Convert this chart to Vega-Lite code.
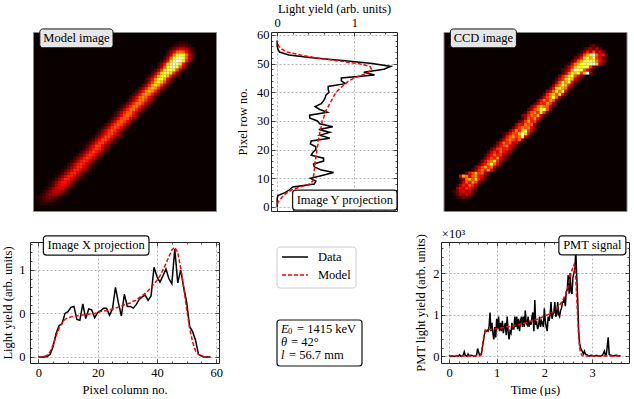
{"$schema":"https://vega.github.io/schema/vega-lite/v6.json","padding":{"left":1,"top":2,"right":0,"bottom":0},"autosize":"pad","config":{"font":"Liberation Serif","view":{"stroke":null},"text":{"fontSize":12.5},"axis":{"labelFontSize":12.5,"titleFontSize":12.5,"labelColor":"#000","titleColor":"#000","titleFontWeight":"normal","domainColor":"#222","domainWidth":1,"tickColor":"#222","tickWidth":0.8,"gridColor":"#999","gridDash":[2,2],"gridWidth":0.7}},
"datasets":{"xp":[{"c":0,"v":0,"m":0},{"c":1,"v":0,"m":0},{"c":2,"v":0,"m":0.005},{"c":3,"v":0.005,"m":0.02},{"c":4,"v":0.03,"m":0.06},{"c":5,"v":0.12,"m":0.14},{"c":6,"v":0.27,"m":0.24},{"c":7,"v":0.36,"m":0.33},{"c":8,"v":0.38,"m":0.39},{"c":9,"v":0.5,"m":0.43},{"c":10,"v":0.52,"m":0.45},{"c":11,"v":0.57,"m":0.46},{"c":12,"v":0.58,"m":0.47},{"c":13,"v":0.43,"m":0.47},{"c":14,"v":0.42,"m":0.48},{"c":15,"v":0.61,"m":0.48},{"c":16,"v":0.44,"m":0.49},{"c":17,"v":0.55,"m":0.49},{"c":18,"v":0.54,"m":0.5},{"c":19,"v":0.45,"m":0.5},{"c":20,"v":0.51,"m":0.51},{"c":21,"v":0.53,"m":0.52},{"c":22,"v":0.56,"m":0.53},{"c":23,"v":0.56,"m":0.53},{"c":24,"v":0.48,"m":0.54},{"c":25,"v":0.55,"m":0.55},{"c":26,"v":0.8,"m":0.56},{"c":27,"v":0.62,"m":0.57},{"c":28,"v":0.47,"m":0.58},{"c":29,"v":0.72,"m":0.6},{"c":30,"v":0.58,"m":0.61},{"c":31,"v":0.58,"m":0.62},{"c":32,"v":0.56,"m":0.64},{"c":33,"v":0.6,"m":0.65},{"c":34,"v":0.66,"m":0.68},{"c":35,"v":0.69,"m":0.7},{"c":36,"v":0.71,"m":0.73},{"c":37,"v":0.65,"m":0.76},{"c":38,"v":0.7,"m":0.8},{"c":39,"v":1.03,"m":0.84},{"c":40,"v":0.92,"m":0.88},{"c":41,"v":0.86,"m":0.93},{"c":42,"v":0.93,"m":1},{"c":43,"v":1.01,"m":1.07},{"c":44,"v":0.9,"m":1.15},{"c":45,"v":0.84,"m":1.23},{"c":46,"v":1.24,"m":1.26},{"c":47,"v":0.85,"m":1.2},{"c":48,"v":1,"m":1.02},{"c":49,"v":0.8,"m":0.8},{"c":50,"v":0.63,"m":0.55},{"c":51,"v":0.35,"m":0.33},{"c":52,"v":0.29,"m":0.17},{"c":53,"v":0.19,"m":0.07},{"c":54,"v":0.03,"m":0.03},{"c":55,"v":0.01,"m":0.01},{"c":56,"v":0,"m":0},{"c":57,"v":0,"m":0},{"c":58,"v":0,"m":0}],
"yp":[{"r":0,"v":0,"m":null},{"r":1,"v":0,"m":0},{"r":2,"v":0,"m":0.02},{"r":3,"v":0,"m":0.05},{"r":4,"v":0.01,"m":0.08},{"r":5,"v":0.1,"m":0.13},{"r":6,"v":0.16,"m":0.19},{"r":7,"v":0.2,"m":0.3},{"r":8,"v":0.48,"m":0.42},{"r":9,"v":0.5,"m":0.46},{"r":10,"v":0.43,"m":0.47},{"r":11,"v":0.58,"m":0.47},{"r":12,"v":0.73,"m":0.48},{"r":13,"v":0.56,"m":0.48},{"r":14,"v":0.48,"m":0.49},{"r":15,"v":0.47,"m":0.49},{"r":16,"v":0.6,"m":0.49},{"r":17,"v":0.6,"m":0.5},{"r":18,"v":0.44,"m":0.5},{"r":19,"v":0.46,"m":0.51},{"r":20,"v":0.5,"m":0.51},{"r":21,"v":0.5,"m":0.52},{"r":22,"v":0.43,"m":0.53},{"r":23,"v":0.44,"m":0.53},{"r":24,"v":0.68,"m":0.54},{"r":25,"v":0.55,"m":0.55},{"r":26,"v":0.68,"m":0.55},{"r":27,"v":0.54,"m":0.56},{"r":28,"v":0.72,"m":0.57},{"r":29,"v":0.55,"m":0.58},{"r":30,"v":0.52,"m":0.58},{"r":31,"v":0.42,"m":0.6},{"r":32,"v":0.42,"m":0.61},{"r":33,"v":0.65,"m":0.62},{"r":34,"v":0.55,"m":0.64},{"r":35,"v":0.49,"m":0.66},{"r":36,"v":0.57,"m":0.68},{"r":37,"v":0.6,"m":0.7},{"r":38,"v":0.62,"m":0.72},{"r":39,"v":0.63,"m":0.74},{"r":40,"v":0.67,"m":0.76},{"r":41,"v":0.66,"m":0.8},{"r":42,"v":0.66,"m":0.84},{"r":43,"v":0.88,"m":0.88},{"r":44,"v":0.83,"m":0.93},{"r":45,"v":0.83,"m":1},{"r":46,"v":1.26,"m":1.1},{"r":47,"v":1.12,"m":1.18},{"r":48,"v":1.38,"m":1.22},{"r":49,"v":1.47,"m":1.2},{"r":50,"v":1.23,"m":1.05},{"r":51,"v":0.88,"m":0.77},{"r":52,"v":0.45,"m":0.5},{"r":53,"v":0.15,"m":0.3},{"r":54,"v":0.03,"m":0.13},{"r":55,"v":0.01,"m":0.06},{"r":56,"v":0,"m":0.02},{"r":57,"v":0,"m":0.01},{"r":58,"v":0,"m":0}],
"pm":[{"t":0,"v":0.02,"m":0},{"t":0.02,"v":0,"m":0},{"t":0.04,"v":-0.01,"m":0},{"t":0.08,"v":0,"m":0},{"t":0.12,"v":-0.01,"m":0},{"t":0.16,"v":0.01,"m":0},{"t":0.2,"v":0,"m":0},{"t":0.22,"v":0.03,"m":0},{"t":0.24,"v":0,"m":0},{"t":0.26,"v":-0.01,"m":0},{"t":0.3,"v":0.03,"m":0},{"t":0.32,"v":0.1,"m":0},{"t":0.34,"v":0.02,"m":0},{"t":0.38,"v":-0.01,"m":0},{"t":0.4,"v":0.05,"m":0},{"t":0.42,"v":0.01,"m":0},{"t":0.46,"v":0.02,"m":0},{"t":0.5,"v":0.01,"m":0},{"t":0.52,"v":-0.01,"m":0},{"t":0.58,"v":0.02,"m":0},{"t":0.6,"v":0.18,"m":0},{"t":0.62,"v":0.1,"m":0},{"t":0.64,"v":0.02,"m":0},{"t":0.66,"v":0.01,"m":0.02},{"t":0.68,"v":0.05,"m":0.1},{"t":0.7,"v":0.2,"m":0.25},{"t":0.72,"v":0.35,"m":0.4},{"t":0.74,"v":0.5,"m":0.53},{"t":0.76,"v":0.62,"m":0.6},{"t":0.78,"v":0.6,"m":0.62},{"t":0.8,"v":0.62,"m":0.63},{"t":0.82,"v":0.6,"m":0.63},{"t":0.84,"v":0.7,"m":0.64},{"t":0.86,"v":1.05,"m":0.64},{"t":0.88,"v":0.6,"m":0.64},{"t":0.9,"v":0.8,"m":0.65},{"t":0.92,"v":0.55,"m":0.65},{"t":0.94,"v":0.4,"m":0.65},{"t":0.96,"v":0.7,"m":0.65},{"t":0.98,"v":0.45,"m":0.66},{"t":1,"v":0.9,"m":0.66},{"t":1.02,"v":0.65,"m":0.66},{"t":1.04,"v":0.95,"m":0.67},{"t":1.06,"v":0.6,"m":0.67},{"t":1.08,"v":0.8,"m":0.67},{"t":1.1,"v":0.6,"m":0.68},{"t":1.12,"v":0.85,"m":0.68},{"t":1.14,"v":0.55,"m":0.68},{"t":1.16,"v":0.7,"m":0.69},{"t":1.18,"v":0.8,"m":0.69},{"t":1.2,"v":0.5,"m":0.7},{"t":1.22,"v":0.95,"m":0.7},{"t":1.24,"v":0.6,"m":0.71},{"t":1.26,"v":0.4,"m":0.71},{"t":1.28,"v":0.6,"m":0.71},{"t":1.3,"v":0.55,"m":0.72},{"t":1.32,"v":0.8,"m":0.72},{"t":1.34,"v":0.65,"m":0.73},{"t":1.36,"v":0.65,"m":0.73},{"t":1.38,"v":0.95,"m":0.74},{"t":1.4,"v":0.7,"m":0.74},{"t":1.42,"v":0.95,"m":0.75},{"t":1.44,"v":0.65,"m":0.75},{"t":1.46,"v":0.9,"m":0.76},{"t":1.48,"v":0.6,"m":0.76},{"t":1.5,"v":0.85,"m":0.77},{"t":1.52,"v":0.95,"m":0.78},{"t":1.54,"v":0.7,"m":0.78},{"t":1.56,"v":0.95,"m":0.79},{"t":1.58,"v":0.7,"m":0.79},{"t":1.6,"v":1.1,"m":0.8},{"t":1.62,"v":0.8,"m":0.81},{"t":1.64,"v":0.75,"m":0.81},{"t":1.66,"v":0.95,"m":0.82},{"t":1.68,"v":0.7,"m":0.83},{"t":1.7,"v":0.85,"m":0.83},{"t":1.72,"v":0.75,"m":0.84},{"t":1.74,"v":0.95,"m":0.85},{"t":1.76,"v":1.05,"m":0.85},{"t":1.78,"v":0.6,"m":0.86},{"t":1.8,"v":1.35,"m":0.87},{"t":1.82,"v":0.75,"m":0.88},{"t":1.84,"v":0.8,"m":0.88},{"t":1.86,"v":0.65,"m":0.89},{"t":1.88,"v":0.75,"m":0.9},{"t":1.9,"v":0.95,"m":0.91},{"t":1.92,"v":0.7,"m":0.92},{"t":1.94,"v":0.85,"m":0.93},{"t":1.96,"v":0.8,"m":0.94},{"t":1.98,"v":0.7,"m":0.95},{"t":2,"v":1.15,"m":0.96},{"t":2.02,"v":0.85,"m":0.97},{"t":2.04,"v":0.7,"m":0.98},{"t":2.06,"v":0.6,"m":0.99},{"t":2.08,"v":0.95,"m":1},{"t":2.1,"v":0.85,"m":1.01},{"t":2.12,"v":1,"m":1.03},{"t":2.14,"v":1.3,"m":1.04},{"t":2.16,"v":0.9,"m":1.05},{"t":2.18,"v":1,"m":1.06},{"t":2.2,"v":1.05,"m":1.08},{"t":2.22,"v":1.3,"m":1.1},{"t":2.24,"v":0.95,"m":1.12},{"t":2.26,"v":1,"m":1.14},{"t":2.28,"v":1.3,"m":1.17},{"t":2.3,"v":1,"m":1.2},{"t":2.32,"v":0.95,"m":1.23},{"t":2.34,"v":1.1,"m":1.26},{"t":2.36,"v":1.15,"m":1.3},{"t":2.38,"v":1.3,"m":1.34},{"t":2.4,"v":1.3,"m":1.38},{"t":2.42,"v":1.4,"m":1.43},{"t":2.44,"v":1.2,"m":1.48},{"t":2.46,"v":1.55,"m":1.53},{"t":2.48,"v":1.6,"m":1.6},{"t":2.5,"v":1.95,"m":1.68},{"t":2.52,"v":1.5,"m":1.78},{"t":2.54,"v":2,"m":1.88},{"t":2.56,"v":1.55,"m":1.98},{"t":2.58,"v":1.5,"m":2.07},{"t":2.6,"v":1.9,"m":2.15},{"t":2.62,"v":2,"m":2.2},{"t":2.64,"v":2.1,"m":2.12},{"t":2.66,"v":2.55,"m":1.85},{"t":2.68,"v":1.9,"m":1.4},{"t":2.7,"v":1.35,"m":0.9},{"t":2.72,"v":0.6,"m":0.5},{"t":2.74,"v":0.3,"m":0.2},{"t":2.76,"v":0.2,"m":0.08},{"t":2.78,"v":0.15,"m":0.03},{"t":2.8,"v":0.1,"m":0.01},{"t":2.82,"v":0.05,"m":0},{"t":2.84,"v":0.12,"m":0},{"t":2.86,"v":0.05,"m":0},{"t":2.9,"v":0.03,"m":0},{"t":2.94,"v":0,"m":0},{"t":2.98,"v":0.02,"m":0},{"t":3.04,"v":0,"m":0},{"t":3.1,"v":0.01,"m":0},{"t":3.18,"v":0,"m":0},{"t":3.22,"v":0.02,"m":0},{"t":3.26,"v":0.12,"m":0},{"t":3.28,"v":0.02,"m":0},{"t":3.3,"v":0.03,"m":0},{"t":3.34,"v":0.45,"m":0},{"t":3.36,"v":0.04,"m":0},{"t":3.4,"v":0.02,"m":0},{"t":3.44,"v":0,"m":0},{"t":3.5,"v":0.02,"m":0},{"t":3.6,"v":0,"m":0}],
"md":[{"x":1,"y":2,"v":2},{"x":2,"y":2,"v":4},{"x":3,"y":2,"v":5},{"x":4,"y":2,"v":5},{"x":5,"y":2,"v":4},{"x":6,"y":2,"v":2},
{"x":1,"y":3,"v":2},{"x":2,"y":3,"v":5},{"x":3,"y":3,"v":8},{"x":4,"y":3,"v":10},{"x":5,"y":3,"v":10},{"x":6,"y":3,"v":8},{"x":7,"y":3,"v":5},{"x":8,"y":3,"v":2},
{"x":1,"y":4,"v":3},{"x":2,"y":4,"v":6},{"x":3,"y":4,"v":10},{"x":4,"y":4,"v":14},{"x":5,"y":4,"v":16},{"x":6,"y":4,"v":14},{"x":7,"y":4,"v":10},{"x":8,"y":4,"v":6},{"x":9,"y":4,"v":3},
{"x":2,"y":5,"v":4},{"x":3,"y":5,"v":8},{"x":4,"y":5,"v":14},{"x":5,"y":5,"v":20},{"x":6,"y":5,"v":22},{"x":7,"y":5,"v":20},{"x":8,"y":5,"v":14},{"x":9,"y":5,"v":8},{"x":10,"y":5,"v":4},
{"x":3,"y":6,"v":4},{"x":4,"y":6,"v":10},{"x":5,"y":6,"v":17},{"x":6,"y":6,"v":24},{"x":7,"y":6,"v":27},{"x":8,"y":6,"v":24},{"x":9,"y":6,"v":17},{"x":10,"y":6,"v":10},{"x":11,"y":6,"v":4},
{"x":4,"y":7,"v":5},{"x":5,"y":7,"v":11},{"x":6,"y":7,"v":20},{"x":7,"y":7,"v":28},{"x":8,"y":7,"v":31},{"x":9,"y":7,"v":28},{"x":10,"y":7,"v":20},{"x":11,"y":7,"v":11},{"x":12,"y":7,"v":5},
{"x":5,"y":8,"v":5},{"x":6,"y":8,"v":12},{"x":7,"y":8,"v":22},{"x":8,"y":8,"v":30},{"x":9,"y":8,"v":34},{"x":10,"y":8,"v":30},{"x":11,"y":8,"v":22},{"x":12,"y":8,"v":12},{"x":13,"y":8,"v":5},
{"x":5,"y":9,"v":4},{"x":6,"y":9,"v":9},{"x":7,"y":9,"v":18},{"x":8,"y":9,"v":28},{"x":9,"y":9,"v":35},{"x":10,"y":9,"v":35},{"x":11,"y":9,"v":28},{"x":12,"y":9,"v":18},{"x":13,"y":9,"v":9},{"x":14,"y":9,"v":4},
{"x":6,"y":10,"v":4},{"x":7,"y":10,"v":10},{"x":8,"y":10,"v":19},{"x":9,"y":10,"v":29},{"x":10,"y":10,"v":37},{"x":11,"y":10,"v":37},{"x":12,"y":10,"v":29},{"x":13,"y":10,"v":19},{"x":14,"y":10,"v":10},{"x":15,"y":10,"v":4},
{"x":7,"y":11,"v":4},{"x":8,"y":11,"v":10},{"x":9,"y":11,"v":19},{"x":10,"y":11,"v":29},{"x":11,"y":11,"v":37},{"x":12,"y":11,"v":37},{"x":13,"y":11,"v":29},{"x":14,"y":11,"v":19},{"x":15,"y":11,"v":10},{"x":16,"y":11,"v":4},
{"x":8,"y":12,"v":4},{"x":9,"y":12,"v":10},{"x":10,"y":12,"v":19},{"x":11,"y":12,"v":30},{"x":12,"y":12,"v":38},{"x":13,"y":12,"v":38},{"x":14,"y":12,"v":30},{"x":15,"y":12,"v":19},{"x":16,"y":12,"v":10},{"x":17,"y":12,"v":4},
{"x":9,"y":13,"v":4},{"x":10,"y":13,"v":10},{"x":11,"y":13,"v":19},{"x":12,"y":13,"v":30},{"x":13,"y":13,"v":38},{"x":14,"y":13,"v":38},{"x":15,"y":13,"v":30},{"x":16,"y":13,"v":19},{"x":17,"y":13,"v":10},{"x":18,"y":13,"v":4},
{"x":10,"y":14,"v":4},{"x":11,"y":14,"v":10},{"x":12,"y":14,"v":20},{"x":13,"y":14,"v":31},{"x":14,"y":14,"v":39},{"x":15,"y":14,"v":39},{"x":16,"y":14,"v":31},{"x":17,"y":14,"v":20},{"x":18,"y":14,"v":10},{"x":19,"y":14,"v":4},
{"x":11,"y":15,"v":6},{"x":12,"y":15,"v":14},{"x":13,"y":15,"v":26},{"x":14,"y":15,"v":36},{"x":15,"y":15,"v":40},{"x":16,"y":15,"v":36},{"x":17,"y":15,"v":26},{"x":18,"y":15,"v":14},{"x":19,"y":15,"v":6},
{"x":12,"y":16,"v":6},{"x":13,"y":16,"v":14},{"x":14,"y":16,"v":26},{"x":15,"y":16,"v":36},{"x":16,"y":16,"v":40},{"x":17,"y":16,"v":36},{"x":18,"y":16,"v":26},{"x":19,"y":16,"v":14},{"x":20,"y":16,"v":6},
{"x":13,"y":17,"v":7},{"x":14,"y":17,"v":15},{"x":15,"y":17,"v":26},{"x":16,"y":17,"v":36},{"x":17,"y":17,"v":41},{"x":18,"y":17,"v":36},{"x":19,"y":17,"v":26},{"x":20,"y":17,"v":15},{"x":21,"y":17,"v":7},
{"x":14,"y":18,"v":7},{"x":15,"y":18,"v":15},{"x":16,"y":18,"v":26},{"x":17,"y":18,"v":36},{"x":18,"y":18,"v":41},{"x":19,"y":18,"v":36},{"x":20,"y":18,"v":26},{"x":21,"y":18,"v":15},{"x":22,"y":18,"v":7},
{"x":15,"y":19,"v":7},{"x":16,"y":19,"v":15},{"x":17,"y":19,"v":26},{"x":18,"y":19,"v":36},{"x":19,"y":19,"v":41},{"x":20,"y":19,"v":36},{"x":21,"y":19,"v":26},{"x":22,"y":19,"v":15},{"x":23,"y":19,"v":7},
{"x":16,"y":20,"v":7},{"x":17,"y":20,"v":15},{"x":18,"y":20,"v":27},{"x":19,"y":20,"v":37},{"x":20,"y":20,"v":42},{"x":21,"y":20,"v":37},{"x":22,"y":20,"v":27},{"x":23,"y":20,"v":15},{"x":24,"y":20,"v":7},
{"x":16,"y":21,"v":4},{"x":17,"y":21,"v":10},{"x":18,"y":21,"v":21},{"x":19,"y":21,"v":32},{"x":20,"y":21,"v":41},{"x":21,"y":21,"v":41},{"x":22,"y":21,"v":32},{"x":23,"y":21,"v":21},{"x":24,"y":21,"v":10},{"x":25,"y":21,"v":4},
{"x":17,"y":22,"v":4},{"x":18,"y":22,"v":10},{"x":19,"y":22,"v":21},{"x":20,"y":22,"v":32},{"x":21,"y":22,"v":41},{"x":22,"y":22,"v":41},{"x":23,"y":22,"v":32},{"x":24,"y":22,"v":21},{"x":25,"y":22,"v":10},{"x":26,"y":22,"v":4},
{"x":18,"y":23,"v":4},{"x":19,"y":23,"v":11},{"x":20,"y":23,"v":21},{"x":21,"y":23,"v":33},{"x":22,"y":23,"v":42},{"x":23,"y":23,"v":42},{"x":24,"y":23,"v":33},{"x":25,"y":23,"v":21},{"x":26,"y":23,"v":11},{"x":27,"y":23,"v":4},
{"x":19,"y":24,"v":4},{"x":20,"y":24,"v":11},{"x":21,"y":24,"v":21},{"x":22,"y":24,"v":33},{"x":23,"y":24,"v":42},{"x":24,"y":24,"v":42},{"x":25,"y":24,"v":33},{"x":26,"y":24,"v":21},{"x":27,"y":24,"v":11},{"x":28,"y":24,"v":4},
{"x":20,"y":25,"v":4},{"x":21,"y":25,"v":11},{"x":22,"y":25,"v":21},{"x":23,"y":25,"v":33},{"x":24,"y":25,"v":42},{"x":25,"y":25,"v":42},{"x":26,"y":25,"v":33},{"x":27,"y":25,"v":21},{"x":28,"y":25,"v":11},{"x":29,"y":25,"v":4},
{"x":21,"y":26,"v":7},{"x":22,"y":26,"v":16},{"x":23,"y":26,"v":28},{"x":24,"y":26,"v":39},{"x":25,"y":26,"v":44},{"x":26,"y":26,"v":39},{"x":27,"y":26,"v":28},{"x":28,"y":26,"v":16},{"x":29,"y":26,"v":7},
{"x":22,"y":27,"v":7},{"x":23,"y":27,"v":16},{"x":24,"y":27,"v":28},{"x":25,"y":27,"v":39},{"x":26,"y":27,"v":44},{"x":27,"y":27,"v":39},{"x":28,"y":27,"v":28},{"x":29,"y":27,"v":16},{"x":30,"y":27,"v":7},
{"x":23,"y":28,"v":7},{"x":24,"y":28,"v":16},{"x":25,"y":28,"v":29},{"x":26,"y":28,"v":40},{"x":27,"y":28,"v":45},{"x":28,"y":28,"v":40},{"x":29,"y":28,"v":29},{"x":30,"y":28,"v":16},{"x":31,"y":28,"v":7},
{"x":24,"y":29,"v":7},{"x":25,"y":29,"v":16},{"x":26,"y":29,"v":29},{"x":27,"y":29,"v":40},{"x":28,"y":29,"v":45},{"x":29,"y":29,"v":40},{"x":30,"y":29,"v":29},{"x":31,"y":29,"v":16},{"x":32,"y":29,"v":7},
{"x":25,"y":30,"v":7},{"x":26,"y":30,"v":17},{"x":27,"y":30,"v":29},{"x":28,"y":30,"v":41},{"x":29,"y":30,"v":46},{"x":30,"y":30,"v":41},{"x":31,"y":30,"v":29},{"x":32,"y":30,"v":17},{"x":33,"y":30,"v":7},
{"x":26,"y":31,"v":8},{"x":27,"y":31,"v":17},{"x":28,"y":31,"v":30},{"x":29,"y":31,"v":42},{"x":30,"y":31,"v":47},{"x":31,"y":31,"v":42},{"x":32,"y":31,"v":30},{"x":33,"y":31,"v":17},{"x":34,"y":31,"v":8},
{"x":26,"y":32,"v":5},{"x":27,"y":32,"v":12},{"x":28,"y":32,"v":23},{"x":29,"y":32,"v":36},{"x":30,"y":32,"v":46},{"x":31,"y":32,"v":46},{"x":32,"y":32,"v":36},{"x":33,"y":32,"v":23},{"x":34,"y":32,"v":12},{"x":35,"y":32,"v":5},
{"x":27,"y":33,"v":5},{"x":28,"y":33,"v":12},{"x":29,"y":33,"v":24},{"x":30,"y":33,"v":37},{"x":31,"y":33,"v":47},{"x":32,"y":33,"v":47},{"x":33,"y":33,"v":37},{"x":34,"y":33,"v":24},{"x":35,"y":33,"v":12},{"x":36,"y":33,"v":5},
{"x":28,"y":34,"v":5},{"x":29,"y":34,"v":12},{"x":30,"y":34,"v":24},{"x":31,"y":34,"v":38},{"x":32,"y":34,"v":48},{"x":33,"y":34,"v":48},{"x":34,"y":34,"v":38},{"x":35,"y":34,"v":24},{"x":36,"y":34,"v":12},{"x":37,"y":34,"v":5},
{"x":29,"y":35,"v":5},{"x":30,"y":35,"v":13},{"x":31,"y":35,"v":25},{"x":32,"y":35,"v":39},{"x":33,"y":35,"v":49},{"x":34,"y":35,"v":49},{"x":35,"y":35,"v":39},{"x":36,"y":35,"v":25},{"x":37,"y":35,"v":13},{"x":38,"y":35,"v":5},
{"x":30,"y":36,"v":5},{"x":31,"y":36,"v":13},{"x":32,"y":36,"v":25},{"x":33,"y":36,"v":39},{"x":34,"y":36,"v":49},{"x":35,"y":36,"v":49},{"x":36,"y":36,"v":39},{"x":37,"y":36,"v":25},{"x":38,"y":36,"v":13},{"x":39,"y":36,"v":5},
{"x":31,"y":37,"v":8},{"x":32,"y":37,"v":19},{"x":33,"y":37,"v":33},{"x":34,"y":37,"v":46},{"x":35,"y":37,"v":52},{"x":36,"y":37,"v":46},{"x":37,"y":37,"v":33},{"x":38,"y":37,"v":19},{"x":39,"y":37,"v":8},
{"x":32,"y":38,"v":9},{"x":33,"y":38,"v":19},{"x":34,"y":38,"v":35},{"x":35,"y":38,"v":48},{"x":36,"y":38,"v":54},{"x":37,"y":38,"v":48},{"x":38,"y":38,"v":35},{"x":39,"y":38,"v":19},{"x":40,"y":38,"v":9},
{"x":33,"y":39,"v":9},{"x":34,"y":39,"v":20},{"x":35,"y":39,"v":36},{"x":36,"y":39,"v":50},{"x":37,"y":39,"v":56},{"x":38,"y":39,"v":50},{"x":39,"y":39,"v":36},{"x":40,"y":39,"v":20},{"x":41,"y":39,"v":9},
{"x":34,"y":40,"v":9},{"x":35,"y":40,"v":21},{"x":36,"y":40,"v":37},{"x":37,"y":40,"v":52},{"x":38,"y":40,"v":58},{"x":39,"y":40,"v":52},{"x":40,"y":40,"v":37},{"x":41,"y":40,"v":21},{"x":42,"y":40,"v":9},
{"x":35,"y":41,"v":10},{"x":36,"y":41,"v":22},{"x":37,"y":41,"v":39},{"x":38,"y":41,"v":54},{"x":39,"y":41,"v":61},{"x":40,"y":41,"v":54},{"x":41,"y":41,"v":39},{"x":42,"y":41,"v":22},{"x":43,"y":41,"v":10},
{"x":36,"y":42,"v":10},{"x":37,"y":42,"v":23},{"x":38,"y":42,"v":42},{"x":39,"y":42,"v":58},{"x":40,"y":42,"v":65},{"x":41,"y":42,"v":58},{"x":42,"y":42,"v":42},{"x":43,"y":42,"v":23},{"x":44,"y":42,"v":10},
{"x":36,"y":43,"v":7},{"x":37,"y":43,"v":18},{"x":38,"y":43,"v":34},{"x":39,"y":43,"v":54},{"x":40,"y":43,"v":68},{"x":41,"y":43,"v":68},{"x":42,"y":43,"v":54},{"x":43,"y":43,"v":34},{"x":44,"y":43,"v":18},{"x":45,"y":43,"v":7},
{"x":37,"y":44,"v":8},{"x":38,"y":44,"v":19},{"x":39,"y":44,"v":37},{"x":40,"y":44,"v":58},{"x":41,"y":44,"v":73},{"x":42,"y":44,"v":73},{"x":43,"y":44,"v":58},{"x":44,"y":44,"v":37},{"x":45,"y":44,"v":19},{"x":46,"y":44,"v":8},
{"x":38,"y":45,"v":8},{"x":39,"y":45,"v":20},{"x":40,"y":45,"v":39},{"x":41,"y":45,"v":62},{"x":42,"y":45,"v":78},{"x":43,"y":45,"v":78},{"x":44,"y":45,"v":62},{"x":45,"y":45,"v":39},{"x":46,"y":45,"v":20},{"x":47,"y":45,"v":8},
{"x":39,"y":46,"v":9},{"x":40,"y":46,"v":22},{"x":41,"y":46,"v":42},{"x":42,"y":46,"v":66},{"x":43,"y":46,"v":83},{"x":44,"y":46,"v":83},{"x":45,"y":46,"v":66},{"x":46,"y":46,"v":42},{"x":47,"y":46,"v":22},{"x":48,"y":46,"v":9},
{"x":40,"y":47,"v":9},{"x":41,"y":47,"v":23},{"x":42,"y":47,"v":45},{"x":43,"y":47,"v":71},{"x":44,"y":47,"v":89},{"x":45,"y":47,"v":89},{"x":46,"y":47,"v":71},{"x":47,"y":47,"v":45},{"x":48,"y":47,"v":23},{"x":49,"y":47,"v":9},
{"x":40,"y":48,"v":6},{"x":41,"y":48,"v":16},{"x":42,"y":48,"v":35},{"x":43,"y":48,"v":62},{"x":44,"y":48,"v":86},{"x":45,"y":48,"v":97},{"x":46,"y":48,"v":86},{"x":47,"y":48,"v":62},{"x":48,"y":48,"v":35},{"x":49,"y":48,"v":16},{"x":50,"y":48,"v":6},
{"x":41,"y":49,"v":6},{"x":42,"y":49,"v":16},{"x":43,"y":49,"v":36},{"x":44,"y":49,"v":64},{"x":45,"y":49,"v":89},{"x":46,"y":49,"v":100},{"x":47,"y":49,"v":89},{"x":48,"y":49,"v":64},{"x":49,"y":49,"v":36},{"x":50,"y":49,"v":16},{"x":51,"y":49,"v":6},
{"x":42,"y":50,"v":9},{"x":43,"y":50,"v":23},{"x":44,"y":50,"v":45},{"x":45,"y":50,"v":71},{"x":46,"y":50,"v":89},{"x":47,"y":50,"v":89},{"x":48,"y":50,"v":71},{"x":49,"y":50,"v":45},{"x":50,"y":50,"v":23},{"x":51,"y":50,"v":9},
{"x":43,"y":51,"v":12},{"x":44,"y":51,"v":27},{"x":45,"y":51,"v":48},{"x":46,"y":51,"v":67},{"x":47,"y":51,"v":75},{"x":48,"y":51,"v":67},{"x":49,"y":51,"v":48},{"x":50,"y":51,"v":27},{"x":51,"y":51,"v":12},
{"x":43,"y":52,"v":8},{"x":44,"y":52,"v":18},{"x":45,"y":52,"v":32},{"x":46,"y":52,"v":45},{"x":47,"y":52,"v":50},{"x":48,"y":52,"v":45},{"x":49,"y":52,"v":32},{"x":50,"y":52,"v":18},{"x":51,"y":52,"v":8},
{"x":44,"y":53,"v":7},{"x":45,"y":53,"v":14},{"x":46,"y":53,"v":22},{"x":47,"y":53,"v":27},{"x":48,"y":53,"v":27},{"x":49,"y":53,"v":22},{"x":50,"y":53,"v":14},{"x":51,"y":53,"v":7},
{"x":45,"y":54,"v":6},{"x":46,"y":54,"v":9},{"x":47,"y":54,"v":12},{"x":48,"y":54,"v":12},{"x":49,"y":54,"v":9},{"x":50,"y":54,"v":6},
{"x":46,"y":55,"v":3},{"x":47,"y":55,"v":5},{"x":48,"y":55,"v":5},{"x":49,"y":55,"v":3}],
"cd":[{"x":4,"y":4,"v":6},{"x":5,"y":4,"v":10},{"x":6,"y":4,"v":14},{"x":7,"y":4,"v":12},{"x":8,"y":4,"v":8},
{"x":3,"y":5,"v":5},{"x":4,"y":5,"v":12},{"x":5,"y":5,"v":22},{"x":6,"y":5,"v":16},{"x":7,"y":5,"v":28},{"x":8,"y":5,"v":20},{"x":9,"y":5,"v":6},
{"x":3,"y":6,"v":8},{"x":4,"y":6,"v":14},{"x":5,"y":6,"v":26},{"x":6,"y":6,"v":32},{"x":7,"y":6,"v":20},{"x":8,"y":6,"v":30},{"x":9,"y":6,"v":12},{"x":10,"y":6,"v":5},
{"x":4,"y":7,"v":18},{"x":5,"y":7,"v":30},{"x":6,"y":7,"v":24},{"x":7,"y":7,"v":38},{"x":8,"y":7,"v":34},{"x":9,"y":7,"v":26},{"x":10,"y":7,"v":10},
{"x":4,"y":8,"v":6},{"x":5,"y":8,"v":22},{"x":6,"y":8,"v":36},{"x":7,"y":8,"v":30},{"x":8,"y":8,"v":46},{"x":9,"y":8,"v":38},{"x":10,"y":8,"v":22},{"x":11,"y":8,"v":8},
{"x":5,"y":9,"v":10},{"x":6,"y":9,"v":28},{"x":7,"y":9,"v":44},{"x":8,"y":9,"v":36},{"x":9,"y":9,"v":52},{"x":10,"y":9,"v":40},{"x":11,"y":9,"v":18},{"x":12,"y":9,"v":6},
{"x":5,"y":10,"v":8},{"x":6,"y":10,"v":20},{"x":7,"y":10,"v":48},{"x":8,"y":10,"v":58},{"x":9,"y":10,"v":44},{"x":10,"y":10,"v":60},{"x":11,"y":10,"v":36},{"x":12,"y":10,"v":24},{"x":13,"y":10,"v":8},
{"x":5,"y":11,"v":30},{"x":6,"y":11,"v":55},{"x":7,"y":11,"v":50},{"x":8,"y":11,"v":30},{"x":9,"y":11,"v":48},{"x":10,"y":11,"v":52},{"x":11,"y":11,"v":36},{"x":12,"y":11,"v":30},{"x":13,"y":11,"v":12},
{"x":7,"y":12,"v":14},{"x":8,"y":12,"v":34},{"x":9,"y":12,"v":44},{"x":10,"y":12,"v":58},{"x":11,"y":12,"v":40},{"x":12,"y":12,"v":46},{"x":13,"y":12,"v":24},{"x":14,"y":12,"v":8},
{"x":9,"y":13,"v":10},{"x":10,"y":13,"v":22},{"x":11,"y":13,"v":38},{"x":12,"y":13,"v":48},{"x":13,"y":13,"v":36},{"x":14,"y":13,"v":54},{"x":15,"y":13,"v":30},{"x":16,"y":13,"v":10},
{"x":10,"y":14,"v":16},{"x":11,"y":14,"v":30},{"x":12,"y":14,"v":42},{"x":13,"y":14,"v":56},{"x":14,"y":14,"v":40},{"x":15,"y":14,"v":48},{"x":16,"y":14,"v":24},{"x":17,"y":14,"v":8},
{"x":11,"y":15,"v":10},{"x":12,"y":15,"v":26},{"x":13,"y":15,"v":36},{"x":14,"y":15,"v":52},{"x":15,"y":15,"v":74},{"x":16,"y":15,"v":46},{"x":17,"y":15,"v":34},{"x":18,"y":15,"v":12},
{"x":12,"y":16,"v":14},{"x":13,"y":16,"v":30},{"x":14,"y":16,"v":44},{"x":15,"y":16,"v":50},{"x":16,"y":16,"v":68},{"x":17,"y":16,"v":38},{"x":18,"y":16,"v":22},{"x":19,"y":16,"v":8},
{"x":13,"y":17,"v":16},{"x":14,"y":17,"v":32},{"x":15,"y":17,"v":42},{"x":16,"y":17,"v":36},{"x":17,"y":17,"v":52},{"x":18,"y":17,"v":30},{"x":19,"y":17,"v":20},{"x":20,"y":17,"v":10},
{"x":13,"y":18,"v":8},{"x":14,"y":18,"v":22},{"x":15,"y":18,"v":34},{"x":16,"y":18,"v":46},{"x":17,"y":18,"v":38},{"x":18,"y":18,"v":40},{"x":19,"y":18,"v":24},{"x":20,"y":18,"v":18},{"x":21,"y":18,"v":6},
{"x":14,"y":19,"v":10},{"x":15,"y":19,"v":26},{"x":16,"y":19,"v":38},{"x":17,"y":19,"v":32},{"x":18,"y":19,"v":46},{"x":19,"y":19,"v":34},{"x":20,"y":19,"v":28},{"x":21,"y":19,"v":16},
{"x":15,"y":20,"v":12},{"x":16,"y":20,"v":24},{"x":17,"y":20,"v":40},{"x":18,"y":20,"v":44},{"x":19,"y":20,"v":36},{"x":20,"y":20,"v":38},{"x":21,"y":20,"v":30},{"x":22,"y":20,"v":14},
{"x":16,"y":21,"v":8},{"x":17,"y":21,"v":22},{"x":18,"y":21,"v":36},{"x":19,"y":21,"v":42},{"x":20,"y":21,"v":48},{"x":21,"y":21,"v":30},{"x":22,"y":21,"v":26},{"x":23,"y":21,"v":10},
{"x":17,"y":22,"v":14},{"x":18,"y":22,"v":30},{"x":19,"y":22,"v":46},{"x":20,"y":22,"v":38},{"x":21,"y":22,"v":44},{"x":22,"y":22,"v":26},{"x":23,"y":22,"v":30},{"x":24,"y":22,"v":8},
{"x":18,"y":23,"v":10},{"x":19,"y":23,"v":26},{"x":20,"y":23,"v":40},{"x":21,"y":23,"v":50},{"x":22,"y":23,"v":42},{"x":23,"y":23,"v":34},{"x":24,"y":23,"v":46},{"x":25,"y":23,"v":16},
{"x":19,"y":24,"v":12},{"x":20,"y":24,"v":34},{"x":21,"y":24,"v":44},{"x":22,"y":24,"v":56},{"x":23,"y":24,"v":40},{"x":24,"y":24,"v":46},{"x":25,"y":24,"v":70},{"x":26,"y":24,"v":26},{"x":27,"y":24,"v":8},
{"x":19,"y":25,"v":8},{"x":20,"y":25,"v":16},{"x":21,"y":25,"v":32},{"x":22,"y":25,"v":44},{"x":23,"y":25,"v":40},{"x":24,"y":25,"v":60},{"x":25,"y":25,"v":100},{"x":26,"y":25,"v":62},{"x":27,"y":25,"v":30},{"x":28,"y":25,"v":10},
{"x":21,"y":26,"v":14},{"x":22,"y":26,"v":30},{"x":23,"y":26,"v":48},{"x":24,"y":26,"v":36},{"x":25,"y":26,"v":60},{"x":26,"y":26,"v":72},{"x":27,"y":26,"v":40},{"x":28,"y":26,"v":24},{"x":29,"y":26,"v":8},
{"x":22,"y":27,"v":10},{"x":23,"y":27,"v":26},{"x":24,"y":27,"v":40},{"x":25,"y":27,"v":52},{"x":26,"y":27,"v":44},{"x":27,"y":27,"v":50},{"x":28,"y":27,"v":30},{"x":29,"y":27,"v":14},
{"x":23,"y":28,"v":18},{"x":24,"y":28,"v":34},{"x":25,"y":28,"v":30},{"x":26,"y":28,"v":50},{"x":27,"y":28,"v":42},{"x":28,"y":28,"v":46},{"x":29,"y":28,"v":16},{"x":30,"y":28,"v":6},
{"x":24,"y":29,"v":12},{"x":25,"y":29,"v":22},{"x":26,"y":29,"v":40},{"x":27,"y":29,"v":54},{"x":28,"y":29,"v":36},{"x":29,"y":29,"v":40},{"x":30,"y":29,"v":18},
{"x":25,"y":30,"v":8},{"x":26,"y":30,"v":24},{"x":27,"y":30,"v":44},{"x":28,"y":30,"v":38},{"x":29,"y":30,"v":52},{"x":30,"y":30,"v":32},{"x":31,"y":30,"v":14},
{"x":25,"y":31,"v":14},{"x":26,"y":31,"v":20},{"x":27,"y":31,"v":38},{"x":28,"y":31,"v":48},{"x":29,"y":31,"v":42},{"x":30,"y":31,"v":56},{"x":31,"y":31,"v":28},{"x":32,"y":31,"v":10},
{"x":26,"y":32,"v":8},{"x":27,"y":32,"v":30},{"x":28,"y":32,"v":44},{"x":29,"y":32,"v":52},{"x":30,"y":32,"v":40},{"x":31,"y":32,"v":66},{"x":32,"y":32,"v":40},{"x":33,"y":32,"v":12},
{"x":27,"y":33,"v":12},{"x":28,"y":33,"v":26},{"x":29,"y":33,"v":42},{"x":30,"y":33,"v":50},{"x":31,"y":33,"v":74},{"x":32,"y":33,"v":78},{"x":33,"y":33,"v":42},{"x":34,"y":33,"v":14},
{"x":28,"y":34,"v":16},{"x":29,"y":34,"v":32},{"x":30,"y":34,"v":46},{"x":31,"y":34,"v":60},{"x":32,"y":34,"v":48},{"x":33,"y":34,"v":44},{"x":34,"y":34,"v":22},{"x":35,"y":34,"v":8},
{"x":29,"y":35,"v":10},{"x":30,"y":35,"v":24},{"x":31,"y":35,"v":40},{"x":32,"y":35,"v":36},{"x":33,"y":35,"v":52},{"x":34,"y":35,"v":40},{"x":35,"y":35,"v":20},
{"x":30,"y":36,"v":14},{"x":31,"y":36,"v":34},{"x":32,"y":36,"v":46},{"x":33,"y":36,"v":38},{"x":34,"y":36,"v":56},{"x":35,"y":36,"v":44},{"x":36,"y":36,"v":16},
{"x":31,"y":37,"v":8},{"x":32,"y":37,"v":28},{"x":33,"y":37,"v":42},{"x":34,"y":37,"v":52},{"x":35,"y":37,"v":74},{"x":36,"y":37,"v":46},{"x":37,"y":37,"v":22},{"x":38,"y":37,"v":6},
{"x":32,"y":38,"v":14},{"x":33,"y":38,"v":36},{"x":34,"y":38,"v":50},{"x":35,"y":38,"v":60},{"x":36,"y":38,"v":44},{"x":37,"y":38,"v":64},{"x":38,"y":38,"v":30},{"x":39,"y":38,"v":10},
{"x":33,"y":39,"v":18},{"x":34,"y":39,"v":30},{"x":35,"y":39,"v":48},{"x":36,"y":39,"v":76},{"x":37,"y":39,"v":50},{"x":38,"y":39,"v":70},{"x":39,"y":39,"v":26},{"x":40,"y":39,"v":8},
{"x":34,"y":40,"v":12},{"x":35,"y":40,"v":34},{"x":36,"y":40,"v":62},{"x":37,"y":40,"v":70},{"x":38,"y":40,"v":56},{"x":39,"y":40,"v":48},{"x":40,"y":40,"v":18},
{"x":35,"y":41,"v":16},{"x":36,"y":41,"v":40},{"x":37,"y":41,"v":52},{"x":38,"y":41,"v":80},{"x":39,"y":41,"v":58},{"x":40,"y":41,"v":36},{"x":41,"y":41,"v":20},{"x":42,"y":41,"v":6},
{"x":35,"y":42,"v":6},{"x":36,"y":42,"v":22},{"x":37,"y":42,"v":44},{"x":38,"y":42,"v":68},{"x":39,"y":42,"v":54},{"x":40,"y":42,"v":72},{"x":41,"y":42,"v":34},{"x":42,"y":42,"v":14},
{"x":36,"y":43,"v":10},{"x":37,"y":43,"v":28},{"x":38,"y":43,"v":40},{"x":39,"y":43,"v":60},{"x":40,"y":43,"v":82},{"x":41,"y":43,"v":58},{"x":42,"y":43,"v":30},{"x":43,"y":43,"v":16},{"x":44,"y":43,"v":6},
{"x":37,"y":44,"v":14},{"x":38,"y":44,"v":36},{"x":39,"y":44,"v":48},{"x":40,"y":44,"v":64},{"x":41,"y":44,"v":74},{"x":42,"y":44,"v":44},{"x":43,"y":44,"v":28},{"x":44,"y":44,"v":18},
{"x":38,"y":45,"v":8},{"x":39,"y":45,"v":24},{"x":40,"y":45,"v":46},{"x":41,"y":45,"v":70},{"x":42,"y":45,"v":58},{"x":43,"y":45,"v":76},{"x":44,"y":45,"v":40},{"x":45,"y":45,"v":60},{"x":46,"y":45,"v":100},{"x":47,"y":45,"v":22},
{"x":38,"y":46,"v":10},{"x":39,"y":46,"v":18},{"x":40,"y":46,"v":30},{"x":41,"y":46,"v":54},{"x":42,"y":46,"v":100},{"x":43,"y":46,"v":72},{"x":44,"y":46,"v":80},{"x":45,"y":46,"v":44},{"x":46,"y":46,"v":30},{"x":47,"y":46,"v":14},
{"x":39,"y":47,"v":12},{"x":40,"y":47,"v":26},{"x":41,"y":47,"v":40},{"x":42,"y":47,"v":60},{"x":43,"y":47,"v":78},{"x":44,"y":47,"v":66},{"x":45,"y":47,"v":82},{"x":46,"y":47,"v":76},{"x":47,"y":47,"v":40},{"x":48,"y":47,"v":18},{"x":49,"y":47,"v":8},
{"x":40,"y":48,"v":8},{"x":41,"y":48,"v":30},{"x":42,"y":48,"v":48},{"x":43,"y":48,"v":60},{"x":44,"y":48,"v":74},{"x":45,"y":48,"v":84},{"x":46,"y":48,"v":78},{"x":47,"y":48,"v":90},{"x":48,"y":48,"v":100},{"x":49,"y":48,"v":60},{"x":50,"y":48,"v":26},{"x":51,"y":48,"v":10},
{"x":41,"y":49,"v":10},{"x":42,"y":49,"v":24},{"x":43,"y":49,"v":44},{"x":44,"y":49,"v":58},{"x":45,"y":49,"v":82},{"x":46,"y":49,"v":76},{"x":47,"y":49,"v":86},{"x":48,"y":49,"v":72},{"x":49,"y":49,"v":50},{"x":50,"y":49,"v":34},{"x":51,"y":49,"v":24},{"x":52,"y":49,"v":8},
{"x":42,"y":50,"v":12},{"x":43,"y":50,"v":20},{"x":44,"y":50,"v":36},{"x":45,"y":50,"v":60},{"x":46,"y":50,"v":74},{"x":47,"y":50,"v":56},{"x":48,"y":50,"v":80},{"x":49,"y":50,"v":40},{"x":50,"y":50,"v":30},{"x":51,"y":50,"v":16},{"x":52,"y":50,"v":6},
{"x":43,"y":51,"v":8},{"x":44,"y":51,"v":20},{"x":45,"y":51,"v":42},{"x":46,"y":51,"v":56},{"x":47,"y":51,"v":70},{"x":48,"y":51,"v":100},{"x":49,"y":51,"v":46},{"x":50,"y":51,"v":30},{"x":51,"y":51,"v":36},{"x":52,"y":51,"v":12},
{"x":44,"y":52,"v":8},{"x":45,"y":52,"v":18},{"x":46,"y":52,"v":36},{"x":47,"y":52,"v":24},{"x":48,"y":52,"v":44},{"x":49,"y":52,"v":20},{"x":50,"y":52,"v":30},{"x":51,"y":52,"v":14},
{"x":45,"y":53,"v":6},{"x":46,"y":53,"v":14},{"x":47,"y":53,"v":22},{"x":48,"y":53,"v":12},{"x":49,"y":53,"v":26},{"x":50,"y":53,"v":10},
{"x":47,"y":54,"v":8},{"x":48,"y":54,"v":14},{"x":49,"y":54,"v":6}]},
"spacing":411,"bounds":"flush","hconcat":[{"spacing":241,"bounds":"flush","hconcat":[
{"vconcat":[
{"width":183,"height":179,"view":{"fill":"#0a0000","stroke":"#888"},"layer":[
{"data":{"name":"md"},"mark":{"type":"rect","width":3.25,"height":3.2},"encoding":{"x":{"field":"x","type":"quantitative","scale":{"domain":[-0.5,58.5],"nice":false,"zero":false},"axis":null},"y":{"field":"y","type":"quantitative","scale":{"domain":[-0.5,58.5],"nice":false,"zero":false},"axis":null},"color":{"field":"v","type":"quantitative","scale":{"domain":[0,28,62,92],"range":["#0a0000","#ff0000","#ffff00","#ffffff"],"clamp":true,"interpolate":"rgb"},"legend":null}}},
{"data":{"values":[{"a":1.7,"b":25.3,"c":53.3,"d":59.5}]},"mark":{"type":"rect","fill":"#e6e6e6","stroke":"#111","strokeWidth":1,"cornerRadius":3},"encoding":{"x":{"field":"a","type":"quantitative"},"x2":{"field":"b"},"y":{"field":"c","type":"quantitative"},"y2":{"field":"d"}}},
{"data":{"values":[{"l":"Model image","tx":13.5,"ty":56.4}]},"mark":{"type":"text"},"encoding":{"x":{"field":"tx","type":"quantitative"},"y":{"field":"ty","type":"quantitative"},"text":{"field":"l"}}}]},
{"width":189,"height":121,"data":{"name":"xp"},"resolve":{"axis":{"x":"independent","y":"independent"}},"layer":[
{"mark":{"type":"line","color":"#000","strokeWidth":1.5},"encoding":{"x":{"field":"c","type":"quantitative","scale":{"domain":[-2.8,60.9],"nice":false,"zero":false},"axis":{"orient":"bottom","title":"Pixel column no.","values":[0,20,40,60],"grid":true,"tickSize":-4,"labelPadding":7,"titlePadding":5}},"y":{"field":"v","type":"quantitative","scale":{"domain":[-0.07,1.32],"nice":false,"zero":false},"axis":{"orient":"left","title":"Light yield (arb. units)","values":[0,0.5,1],"labelExpr":"datum.value==1?'1':'0'","grid":true,"tickSize":-4,"labelPadding":9}}}},
{"mark":{"type":"line","color":"#ff0000","strokeWidth":1.5,"strokeDash":[4,2]},"encoding":{"x":{"field":"c","type":"quantitative","axis":{"orient":"top","title":null,"labels":false,"values":[0,20,40,60],"grid":false,"tickSize":-4}},"y":{"field":"m","type":"quantitative","axis":{"orient":"right","title":null,"labels":false,"values":[0,0.5,1],"grid":false,"tickSize":-4}}}},
{"mark":{"type":"line","opacity":0},"encoding":{"x":{"field":"c","type":"quantitative","axis":{"orient":"bottom","title":null,"labels":false,"domain":false,"grid":false,"values":[5,10,15,25,30,35,45,50,55],"tickSize":-2}},"y":{"field":"v","type":"quantitative","axis":{"orient":"left","title":null,"labels":false,"domain":false,"grid":false,"values":[0.1,0.2,0.3,0.4,0.6,0.7,0.8,0.9,1.1,1.2,1.3],"tickSize":-2}}}},
{"mark":{"type":"line","opacity":0},"encoding":{"x":{"field":"c","type":"quantitative","axis":{"orient":"top","title":null,"labels":false,"domain":false,"grid":false,"values":[5,10,15,25,30,35,45,50,55],"tickSize":-2}},"y":{"field":"v","type":"quantitative","axis":{"orient":"right","title":null,"labels":false,"domain":false,"grid":false,"values":[0.1,0.2,0.3,0.4,0.6,0.7,0.8,0.9,1.1,1.2,1.3],"tickSize":-2}}}},
{"data":{"values":[{"a":1.7,"b":37.3,"c":1.17,"d":1.39}]},"mark":{"type":"rect","fill":"#fff","stroke":"#111","strokeWidth":1.2,"cornerRadius":3},"encoding":{"x":{"field":"a","type":"quantitative","axis":null},"x2":{"field":"b"},"y":{"field":"c","type":"quantitative","axis":null},"y2":{"field":"d"}}},
{"data":{"values":[{"l":"Image X projection","tx":19.5,"ty":1.28}]},"mark":{"type":"text"},"encoding":{"x":{"field":"tx","type":"quantitative","axis":null},"y":{"field":"ty","type":"quantitative","axis":null},"text":{"field":"l"}}}]}
],"spacing":31,"center":true,"bounds":"flush"},
{"vconcat":[
{"width":126,"height":179,"data":{"name":"yp"},"resolve":{"axis":{"x":"independent","y":"independent"}},"layer":[
{"mark":{"type":"line","color":"#000","strokeWidth":1.5},"encoding":{"order":{"field":"r"},"x":{"field":"v","type":"quantitative","scale":{"domain":[-0.08,1.55],"nice":false,"zero":false},"axis":{"orient":"top","title":"Light yield (arb. units)","values":[0,1],"format":"d","grid":true,"tickSize":-4,"labelPadding":7,"titlePadding":1}},"y":{"field":"r","type":"quantitative","scale":{"domain":[-1.4,61],"nice":false,"zero":false},"axis":{"orient":"left","title":"Pixel row no.","values":[0,10,20,30,40,50,60],"grid":true,"tickSize":-4,"labelPadding":6,"titlePadding":7}}}},
{"mark":{"type":"line","color":"#ff0000","strokeWidth":1.5,"strokeDash":[4,2]},"encoding":{"order":{"field":"r"},"x":{"field":"m","type":"quantitative","axis":{"orient":"bottom","title":null,"labels":false,"values":[0,1],"grid":false,"tickSize":-4}},"y":{"field":"r","type":"quantitative","axis":{"orient":"right","title":null,"labels":false,"values":[0,10,20,30,40,50,60],"grid":false,"tickSize":-4}}}},
{"mark":{"type":"line","opacity":0},"encoding":{"order":{"field":"r"},"x":{"field":"v","type":"quantitative","axis":{"orient":"top","title":null,"labels":false,"domain":false,"grid":false,"values":[0.2,0.4,0.6,0.8,1.2,1.4],"tickSize":-2}},"y":{"field":"r","type":"quantitative","axis":{"orient":"left","title":null,"labels":false,"domain":false,"grid":false,"values":[2,4,6,8,12,14,16,18,22,24,26,28,32,34,36,38,42,44,46,48,52,54,56,58],"tickSize":-2}}}},
{"mark":{"type":"line","opacity":0},"encoding":{"order":{"field":"r"},"x":{"field":"v","type":"quantitative","axis":{"orient":"bottom","title":null,"labels":false,"domain":false,"grid":false,"values":[0.2,0.4,0.6,0.8,1.2,1.4],"tickSize":-2}},"y":{"field":"r","type":"quantitative","axis":{"orient":"right","title":null,"labels":false,"domain":false,"grid":false,"values":[2,4,6,8,12,14,16,18,22,24,26,28,32,34,36,38,42,44,46,48,52,54,56,58],"tickSize":-2}}}},
{"data":{"values":[{"a":0.2,"b":1.55,"c":-1.1,"d":5.9}]},"mark":{"type":"rect","fill":"#fff","stroke":"#111","strokeWidth":1.2,"cornerRadius":3},"encoding":{"x":{"field":"a","type":"quantitative","axis":null},"x2":{"field":"b"},"y":{"field":"c","type":"quantitative","axis":null},"y2":{"field":"d"}}},
{"data":{"values":[{"l":"Image Y projection","tx":0.875,"ty":2.4}]},"mark":{"type":"text"},"encoding":{"x":{"field":"tx","type":"quantitative","axis":null},"y":{"field":"ty","type":"quantitative","axis":null},"text":{"field":"l"}}}]},
{"width":126,"height":121,"layer":[
{"data":{"values":[{"a":6,"b":85,"c":5,"d":46}]},"mark":{"type":"rect","fill":"#fff","stroke":"#ccc","strokeWidth":1,"cornerRadius":3},"encoding":{"x":{"field":"a","type":"quantitative","scale":{"domain":[0,126],"nice":false},"axis":null},"x2":{"field":"b"},"y":{"field":"c","type":"quantitative","scale":{"domain":[0,121],"nice":false,"reverse":true},"axis":null},"y2":{"field":"d"}}},
{"data":{"values":[{"a":11,"b":37,"c":15}]},"mark":{"type":"rule","color":"#000","strokeWidth":1.5},"encoding":{"x":{"field":"a","type":"quantitative"},"x2":{"field":"b"},"y":{"field":"c","type":"quantitative"}}},
{"data":{"values":[{"a":11,"b":37,"c":33}]},"mark":{"type":"rule","color":"#ff0000","strokeWidth":1.5,"strokeDash":[4,2]},"encoding":{"x":{"field":"a","type":"quantitative"},"x2":{"field":"b"},"y":{"field":"c","type":"quantitative"}}},
{"data":{"values":[{"l":"Data","a":47,"c":15},{"l":"Model","a":47,"c":33}]},"mark":{"type":"text","align":"left"},"encoding":{"x":{"field":"a","type":"quantitative"},"y":{"field":"c","type":"quantitative"},"text":{"field":"l"}}},
{"data":{"values":[{"a":6,"b":91,"c":78,"d":124}]},"mark":{"type":"rect","fill":"#fff","stroke":"#111","strokeWidth":1.2,"cornerRadius":3},"encoding":{"x":{"field":"a","type":"quantitative"},"x2":{"field":"b"},"y":{"field":"c","type":"quantitative"},"y2":{"field":"d"}}},
{"data":{"values":[{"l":"E","a":10,"c":87},{"l":"θ","a":10,"c":100},{"l":"l","a":10,"c":113}]},"mark":{"type":"text","align":"left","fontStyle":"italic"},"encoding":{"x":{"field":"a","type":"quantitative"},"y":{"field":"c","type":"quantitative"},"text":{"field":"l"}}},
{"data":{"values":[{"l":"0","a":17,"c":89}]},"mark":{"type":"text","align":"left","fontSize":8.5},"encoding":{"x":{"field":"a","type":"quantitative"},"y":{"field":"c","type":"quantitative"},"text":{"field":"l"}}},
{"data":{"values":[{"l":"= 1415 keV","a":26,"c":87},{"l":"= 42°","a":20,"c":100},{"l":"= 56.7 mm","a":18,"c":113}]},"mark":{"type":"text","align":"left"},"encoding":{"x":{"field":"a","type":"quantitative"},"y":{"field":"c","type":"quantitative"},"text":{"field":"l"}}}]}
],"spacing":31,"bounds":"flush"}]},
{"vconcat":[
{"width":183,"height":179,"view":{"fill":"#0a0000","stroke":"#888"},"layer":[
{"data":{"name":"cd"},"mark":{"type":"rect","width":3.25,"height":3.2},"encoding":{"x":{"field":"x","type":"quantitative","scale":{"domain":[-0.5,58.5],"nice":false,"zero":false},"axis":null},"y":{"field":"y","type":"quantitative","scale":{"domain":[-0.5,58.5],"nice":false,"zero":false},"axis":null},"color":{"field":"v","type":"quantitative","scale":{"domain":[0,36.5,74.6,100],"range":["#0a0000","#ff0000","#ffff00","#ffffff"],"clamp":true,"interpolate":"rgb"},"legend":null}}},
{"data":{"values":[{"a":1.7,"b":23,"c":53.3,"d":59.5}]},"mark":{"type":"rect","fill":"#e6e6e6","stroke":"#111","strokeWidth":1,"cornerRadius":3},"encoding":{"x":{"field":"a","type":"quantitative"},"x2":{"field":"b"},"y":{"field":"c","type":"quantitative"},"y2":{"field":"d"}}},
{"data":{"values":[{"l":"CCD image","tx":12.35,"ty":56.4}]},"mark":{"type":"text"},"encoding":{"x":{"field":"tx","type":"quantitative"},"y":{"field":"ty","type":"quantitative"},"text":{"field":"l"}}}]},
{"width":188,"height":121,"data":{"name":"pm"},"resolve":{"axis":{"x":"independent","y":"independent"}},"layer":[
{"mark":{"type":"line","color":"#000","strokeWidth":1.5},"encoding":{"x":{"field":"t","type":"quantitative","scale":{"domain":[-0.168,3.776],"nice":false,"zero":false},"axis":{"orient":"bottom","title":"Time (µs)","values":[0,1,2,3],"format":"d","grid":true,"tickSize":-4,"labelPadding":7,"titlePadding":5}},"y":{"field":"v","type":"quantitative","scale":{"domain":[-0.168,2.75],"nice":false,"zero":false},"axis":{"orient":"left","title":"PMT light yield (arb. units)","values":[0,1,2],"format":"d","grid":true,"tickSize":-4,"labelPadding":6,"titlePadding":5}}}},
{"mark":{"type":"line","color":"#ff0000","strokeWidth":1.5,"strokeDash":[4,2]},"encoding":{"x":{"field":"t","type":"quantitative","axis":{"orient":"top","title":null,"labels":false,"values":[0,1,2,3],"grid":false,"tickSize":-4}},"y":{"field":"m","type":"quantitative","axis":{"orient":"right","title":null,"labels":false,"values":[0,1,2],"grid":false,"tickSize":-4}}}},
{"mark":{"type":"line","opacity":0},"encoding":{"x":{"field":"t","type":"quantitative","axis":{"orient":"bottom","title":null,"labels":false,"domain":false,"grid":false,"values":[0.2,0.4,0.6,0.8,1.2,1.4,1.6,1.8,2.2,2.4,2.6,2.8,3.2,3.4,3.6],"tickSize":-2}},"y":{"field":"v","type":"quantitative","axis":{"orient":"left","title":null,"labels":false,"domain":false,"grid":false,"values":[0.2,0.4,0.6,0.8,1.2,1.4,1.6,1.8,2.2,2.4,2.6],"tickSize":-2}}}},
{"mark":{"type":"line","opacity":0},"encoding":{"x":{"field":"t","type":"quantitative","axis":{"orient":"top","title":null,"labels":false,"domain":false,"grid":false,"values":[0.2,0.4,0.6,0.8,1.2,1.4,1.6,1.8,2.2,2.4,2.6,2.8,3.2,3.4,3.6],"tickSize":-2}},"y":{"field":"v","type":"quantitative","axis":{"orient":"right","title":null,"labels":false,"domain":false,"grid":false,"values":[0.2,0.4,0.6,0.8,1.2,1.4,1.6,1.8,2.2,2.4,2.6],"tickSize":-2}}}},
{"data":{"values":[{"a":2.305,"b":3.71,"c":2.44,"d":2.9}]},"mark":{"type":"rect","fill":"#fff","stroke":"#111","strokeWidth":1.2,"cornerRadius":3},"encoding":{"x":{"field":"a","type":"quantitative","axis":null},"x2":{"field":"b"},"y":{"field":"c","type":"quantitative","axis":null},"y2":{"field":"d"}}},
{"data":{"values":[{"l":"PMT signal","tx":3.0075,"ty":2.67}]},"mark":{"type":"text"},"encoding":{"x":{"field":"tx","type":"quantitative","axis":null},"y":{"field":"ty","type":"quantitative","axis":null},"text":{"field":"l"}}},
{"data":{"values":[{"l":"×10³","tx":-0.15,"ty":2.95}]},"mark":{"type":"text","align":"left"},"encoding":{"x":{"field":"tx","type":"quantitative","axis":null},"y":{"field":"ty","type":"quantitative","axis":null},"text":{"field":"l"}}}]}
],"spacing":31,"center":true,"bounds":"flush"}
]}
